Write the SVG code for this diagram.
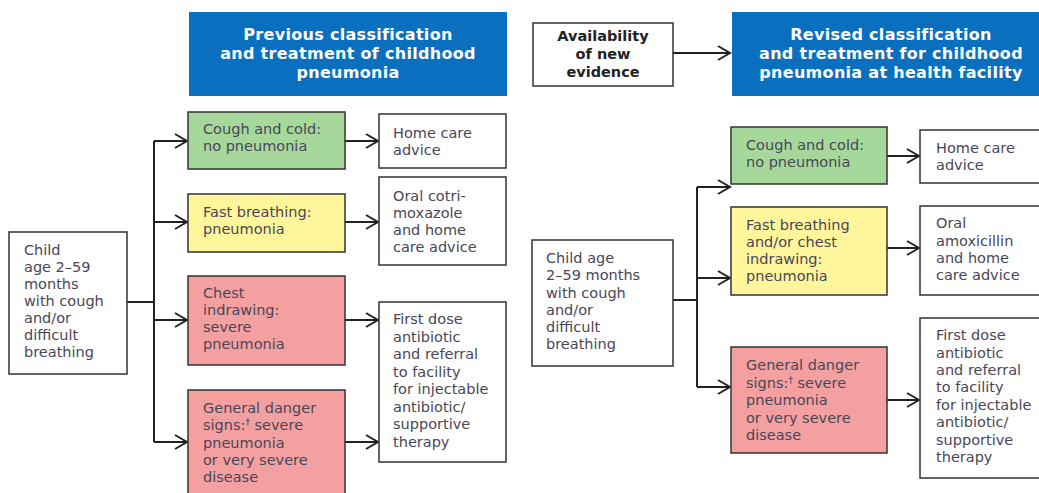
<svg xmlns="http://www.w3.org/2000/svg" width="1039" height="493" viewBox="0 0 1039 493">
<style>
.box{stroke:#333;stroke-width:1.5}
.w{fill:#fff}.g{fill:#a6d89c}.y{fill:#fff69c}.p{fill:#f4a0a0}.b{fill:#0a6fbf;stroke:none}
text{font-family:"DejaVu Sans","Open Sans",sans-serif;font-size:14.5px;fill:#4a4658}
.h{font-weight:bold;font-size:16px;letter-spacing:0.3px;fill:#fff;text-anchor:middle}
.a{font-weight:bold;font-size:14.5px;fill:#222;text-anchor:middle}
.c{stroke:#222;stroke-width:2;fill:none}
</style>
<defs>
<marker id="arr" markerUnits="userSpaceOnUse" markerWidth="16" markerHeight="18" refX="13" refY="8" orient="auto" viewBox="0 0 16 18">
<path d="M1,1 L13,8 L1,15" fill="none" stroke="#222" stroke-width="2"/>
</marker>
</defs>
<rect width="1039" height="493" fill="#fff"/>
<g id="connectors">
<path class="c" d="M127,302 H154 M154,141 V442"/>
<path class="c" marker-end="url(#arr)" d="M154,141 H187"/>
<path class="c" marker-end="url(#arr)" d="M154,222 H187"/>
<path class="c" marker-end="url(#arr)" d="M154,320 H187"/>
<path class="c" marker-end="url(#arr)" d="M154,442 H187"/>
<path class="c" marker-end="url(#arr)" d="M345,141 H378"/>
<path class="c" marker-end="url(#arr)" d="M345,222 H378"/>
<path class="c" marker-end="url(#arr)" d="M345,320 H378"/>
<path class="c" marker-end="url(#arr)" d="M345,442 H378"/>
<path class="c" marker-end="url(#arr)" d="M673,53 H730"/>
<path class="c" d="M673,300 H697 M697,187 V387"/>
<path class="c" marker-end="url(#arr)" d="M697,187 H730"/>
<path class="c" marker-end="url(#arr)" d="M697,278 H730"/>
<path class="c" marker-end="url(#arr)" d="M697,387 H730"/>
<path class="c" marker-end="url(#arr)" d="M887,156 H919"/>
<path class="c" marker-end="url(#arr)" d="M887,248 H919"/>
<path class="c" marker-end="url(#arr)" d="M887,400 H919"/>
</g>
<g id="header-previous">
<rect class="b" x="189" y="12" width="318" height="84"/>
<text class="h" x="348" y="40">Previous classification</text>
<text class="h" x="348" y="59">and treatment of childhood</text>
<text class="h" x="348" y="78">pneumonia</text>
</g>
<g id="availability">
<rect class="box w" x="533" y="23" width="140" height="63"/>
<text class="a" x="603" y="41">Availability</text>
<text class="a" x="603" y="59">of new</text>
<text class="a" x="603" y="77">evidence</text>
</g>
<g id="header-revised">
<rect class="b" x="732" y="12" width="320" height="84"/>
<text class="h" x="891" y="40">Revised classification</text>
<text class="h" x="891" y="59">and treatment for childhood</text>
<text class="h" x="891" y="78">pneumonia at health facility</text>
</g>
<g id="child-left">
<rect class="box w" x="9" y="232" width="118" height="142"/>
<text x="24" y="255">Child</text>
<text x="24" y="272">age 2–59</text>
<text x="24" y="289">months</text>
<text x="24" y="306">with cough</text>
<text x="24" y="323">and/or</text>
<text x="24" y="340">difficult</text>
<text x="24" y="357">breathing</text>
</g>
<g id="cough-left">
<rect class="box g" x="188" y="112" width="157" height="57"/>
<text x="203" y="134">Cough and cold:</text>
<text x="203" y="151">no pneumonia</text>
</g>
<g id="fast-left">
<rect class="box y" x="188" y="194" width="157" height="58"/>
<text x="203" y="217">Fast breathing:</text>
<text x="203" y="234">pneumonia</text>
</g>
<g id="chest-left">
<rect class="box p" x="188" y="276" width="157" height="89"/>
<text x="203" y="298">Chest</text>
<text x="203" y="315">indrawing:</text>
<text x="203" y="332">severe</text>
<text x="203" y="349">pneumonia</text>
</g>
<g id="danger-left">
<rect class="box p" x="188" y="390" width="157" height="110"/>
<text x="203" y="413">General danger</text>
<text x="203" y="430">signs:<tspan font-size="9" dy="-5">†</tspan><tspan dy="5"> severe</tspan></text>
<text x="203" y="447.5">pneumonia</text>
<text x="203" y="465">or very severe</text>
<text x="203" y="482">disease</text>
</g>
<g id="home-left">
<rect class="box w" x="379" y="114" width="127" height="54"/>
<text x="393" y="138">Home care</text>
<text x="393" y="155">advice</text>
</g>
<g id="oral-left">
<rect class="box w" x="379" y="177" width="127" height="88"/>
<text x="393" y="201">Oral cotri-</text>
<text x="393" y="218">moxazole</text>
<text x="393" y="235">and home</text>
<text x="393" y="252">care advice</text>
</g>
<g id="first-left">
<rect class="box w" x="379" y="302" width="127" height="160"/>
<text x="393" y="324">First dose</text>
<text x="393" y="341.5">antibiotic</text>
<text x="393" y="359">and referral</text>
<text x="393" y="376.5">to facility</text>
<text x="393" y="394">for injectable</text>
<text x="393" y="411.5">antibiotic/</text>
<text x="393" y="429">supportive</text>
<text x="393" y="446.5">therapy</text>
</g>
<g id="child-right">
<rect class="box w" x="532" y="240" width="141" height="126"/>
<text x="546" y="263">Child age</text>
<text x="546" y="280">2–59 months</text>
<text x="546" y="297.5">with cough</text>
<text x="546" y="315">and/or</text>
<text x="546" y="332">difficult</text>
<text x="546" y="349">breathing</text>
</g>
<g id="cough-right">
<rect class="box g" x="731" y="127" width="156" height="57"/>
<text x="746" y="150">Cough and cold:</text>
<text x="746" y="167">no pneumonia</text>
</g>
<g id="fast-right">
<rect class="box y" x="731" y="207" width="156" height="88"/>
<text x="746" y="230">Fast breathing</text>
<text x="746" y="247">and/or chest</text>
<text x="746" y="264">indrawing:</text>
<text x="746" y="281">pneumonia</text>
</g>
<g id="danger-right">
<rect class="box p" x="731" y="347" width="156" height="106"/>
<text x="746" y="370">General danger</text>
<text x="746" y="387.5">signs:<tspan font-size="9" dy="-5">†</tspan><tspan dy="5"> severe</tspan></text>
<text x="746" y="405">pneumonia</text>
<text x="746" y="422.5">or very severe</text>
<text x="746" y="440">disease</text>
</g>
<g id="home-right">
<rect class="box w" x="920" y="130" width="130" height="53"/>
<text x="936" y="153">Home care</text>
<text x="936" y="170">advice</text>
</g>
<g id="oral-right">
<rect class="box w" x="920" y="206" width="130" height="89"/>
<text x="936" y="228">Oral</text>
<text x="936" y="245.5">amoxicillin</text>
<text x="936" y="263">and home</text>
<text x="936" y="280">care advice</text>
</g>
<g id="first-right">
<rect class="box w" x="920" y="318" width="130" height="160"/>
<text x="936" y="340">First dose</text>
<text x="936" y="357.5">antibiotic</text>
<text x="936" y="375">and referral</text>
<text x="936" y="392">to facility</text>
<text x="936" y="409.5">for injectable</text>
<text x="936" y="427">antibiotic/</text>
<text x="936" y="444.5">supportive</text>
<text x="936" y="462">therapy</text>
</g>
</svg>
